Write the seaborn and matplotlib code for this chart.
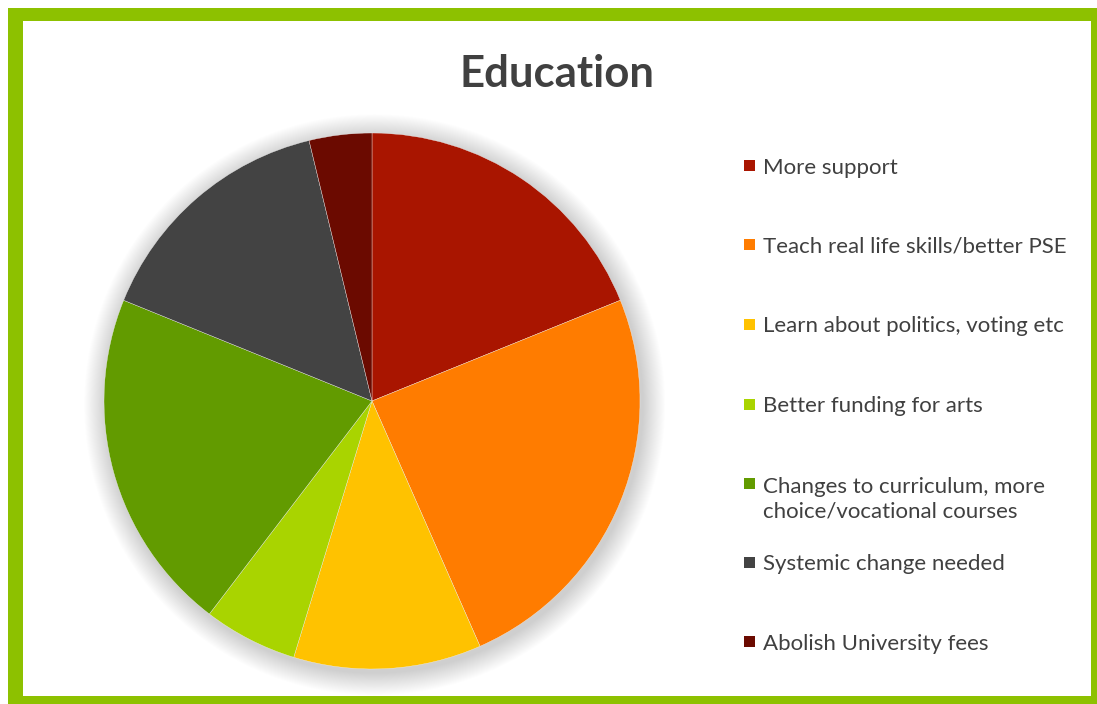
import matplotlib
matplotlib.use("Agg")
import matplotlib.pyplot as plt
from matplotlib.patches import Rectangle, Circle
import seaborn as sns

# Survey responses on education
categories = [
    "More support",
    "Teach real life skills/better PSE",
    "Learn about politics, voting etc",
    "Better funding for arts",
    "Changes to curriculum, more\nchoice/vocational courses",
    "Systemic change needed",
    "Abolish University fees",
]
counts = [10, 13, 6, 3, 11, 8, 2]
slice_colors = ["#A91500", "#FF7C00", "#FFC200", "#A9D400", "#629B00", "#434343", "#6B0A00"]

sns.set_theme(style="white")
plt.rcParams["font.family"] = ["Lato", "DejaVu Sans"]

palette = sns.color_palette(slice_colors)
TEXT = "#404040"
W, H = 1097, 704

fig = plt.figure(figsize=(W / 100, H / 100), dpi=100)
fig.patch.set_facecolor("white")


def fx(px):
    return px / W


def fy(py):
    return (H - py) / H


# Green frame around the chart area
fig.add_artist(Rectangle((fx(8), 0), fx(W - 8), (H - 8) / H, transform=fig.transFigure,
                         facecolor="#8DC100", edgecolor="none", zorder=-3))
fig.add_artist(Rectangle((fx(23), fy(696)), fx(1091 - 23), (696 - 21) / H, transform=fig.transFigure,
                         facecolor="white", edgecolor="none", zorder=-2))

# Pie
cx, cy, r = 372, 401, 268
ax = fig.add_axes([fx(cx - r), fy(cy + r), fx(2 * r), 2 * r / H])
ax.set_facecolor("none")
ax.axis("off")

# soft drop shadow
for i in range(24):
    rad = 1.0 + 0.0035 * (i + 1)
    ax.add_patch(Circle((0.01, -0.014), rad, facecolor="black", edgecolor="none",
                        alpha=0.009, zorder=0, clip_on=False))

wedges, _ = ax.pie(counts, colors=palette, startangle=90, counterclock=False,
                   wedgeprops=dict(edgecolor="#f2f2f2", linewidth=0.25))
for w in wedges:
    w.set_zorder(2)
ax.set_xlim(-1, 1)
ax.set_ylim(-1, 1)
ax.set_aspect("equal")

# Title
fig.text(fx(557), fy(74), "Education", ha="center", va="center", fontsize=31.5,
         fontweight="bold", color=TEXT)

# Legend
entry_y = [166, 245, 325, 405, 497.5, 563, 642]
sq = 11
for label, color, y in zip(categories, palette, entry_y):
    first_line_y = y if "\n" not in label else 484
    fig.add_artist(Rectangle((fx(744), fy(first_line_y + sq / 2 - 0.5)), fx(sq), sq / H,
                             transform=fig.transFigure, facecolor=color, edgecolor="none"))
    fig.text(fx(763), fy(y + 1.5), label, ha="left", va="center", fontsize=16, color=TEXT,
             linespacing=1.3)

fig.savefig("out.png", dpi=100, facecolor="white")
